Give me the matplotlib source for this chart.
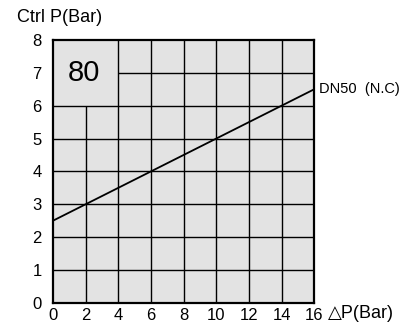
import matplotlib.pyplot as plt

plt.rcParams['font.family'] = ['Liberation Sans', 'DejaVu Sans']

# data
dp = [0, 16]
ctrl_p = [2.5, 6.5]
x_ticks = [0, 2, 4, 6, 8, 10, 12, 14, 16]
y_ticks = [0, 1, 2, 3, 4, 5, 6, 7, 8]
serie = "DN50  (N.C)"
size_label = "80"

fig = plt.figure(figsize=(4.07, 3.25), dpi=100)
ax = fig.add_axes([0.130, 0.068, 0.642, 0.809])
ax.set_facecolor('#e3e3e3')
ax.set_xlim(0, 16)
ax.set_ylim(0, 8)

# grid, leaving the top-left box (x 0-4, y 6-8) empty
for x in x_ticks[1:-1]:
    top = 6 if x < 4 else 8
    ax.vlines(x, 0, top, color='black', lw=1)
for y in y_ticks[1:-1]:
    left = 4 if y > 6 else 0
    ax.hlines(y, left, 16, color='black', lw=1)

ax.plot(dp, ctrl_p, color='black', lw=1.3)
ax.text(16.3, ctrl_p[-1], serie, fontsize=10.5, va='center', ha='left', clip_on=False)
ax.text(1.9, 7.0, size_label, fontsize=21, ha='center', va='center')

for s in ax.spines.values():
    s.set_linewidth(1.6)

ax.set_xticks(x_ticks)
ax.set_yticks(y_ticks)
ax.tick_params(length=0, labelsize=12)
ax.tick_params(axis='x', pad=4)
ax.tick_params(axis='y', pad=8)

fig.text(0.042, 0.945, "Ctrl P(Bar)", fontsize=13, va='center', ha='left')
fig.text(0.805, 0.036, "\u25b3P(Bar)", fontsize=13, va='center', ha='left')

fig.savefig('out.png', dpi=100)
